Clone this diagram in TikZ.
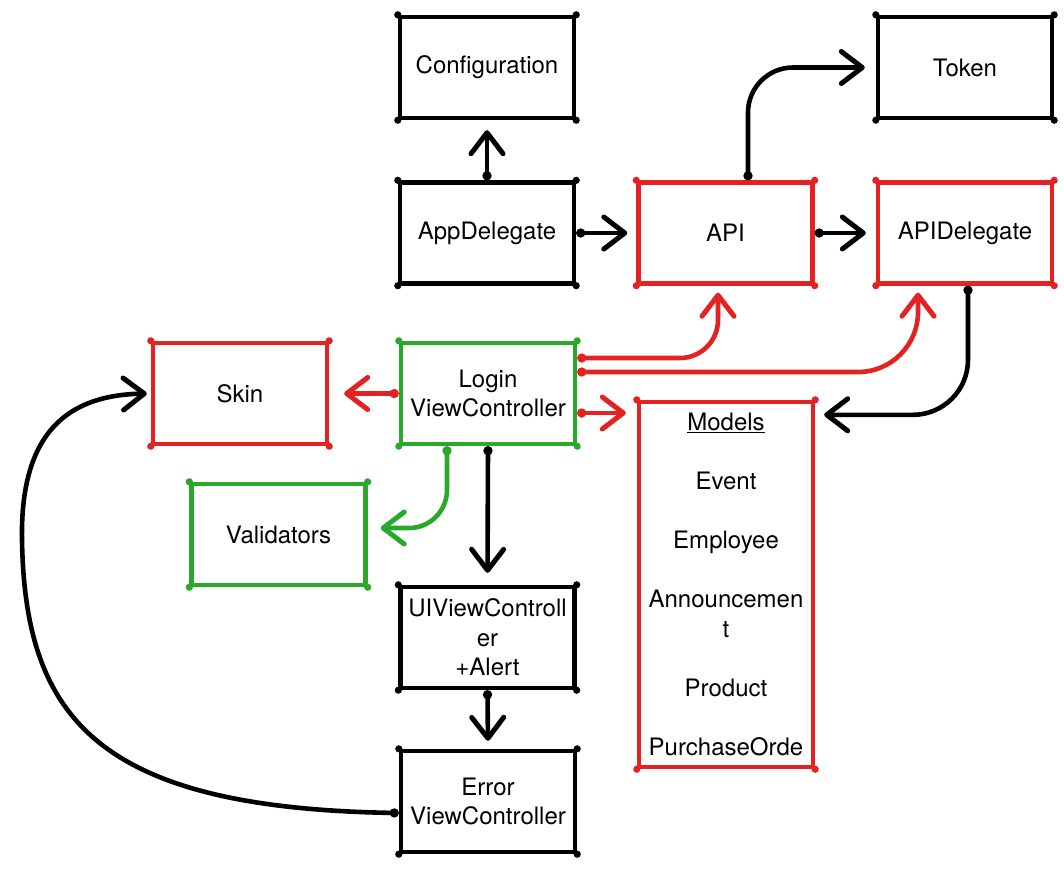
\documentclass[tikz,border=0pt]{standalone}
\usepackage{fontspec}
\setmainfont{TeX Gyre Heros}
\usetikzlibrary{arrows.meta}
\definecolor{cred}{RGB}{228,34,34}
\definecolor{cgreen}{RGB}{42,168,42}
\begin{document}
\begin{tikzpicture}[x=1pt,y=-1pt,
  box/.style={draw=#1, line width=4.4pt, line join=round, minimum width=174pt, minimum height=101pt,
    inner sep=0pt, align=center, font=\fontsize{24}{29.5}\selectfont, text=black},
  box/.default=black,
  arr/.style={line width=4.6pt, line cap=round,
    {Circle[length=9pt]}-{Straight Barb[length=21pt,width=32pt,line width=5pt,round]}},
  ]
\fill[white] (0,0) rectangle (1064,876);
\path[use as bounding box] (0,0) rectangle (1064,876);

\node[box] (conf) at (487,67.5) {\raisebox{-3pt}{Configuration}};
\node[box] (token) at (965,67.5) {\raisebox{-3pt}{Token}};
\node[box] (app) at (487,233) {AppDelegate};
\node[box=cred] (api) at (725.5,233) {API};
\node[box=cred] (apid) at (965,233) {APIDelegate};
\node[box=cred] (skin) at (240,393.5) {Skin};
\node[box=cgreen] (login) at (488,393.5) {Login\\ViewController};
\node[box=cred,minimum height=365pt] (models) at (726,584.5)
  {\underline{Models}\\[29.5pt]Event\\[29.5pt]Employee\\[29.5pt]Announcemen\\t\\[29.5pt]Product\\[29.5pt]PurchaseOrde};
\node[box=cgreen] (valid) at (278.5,534.5) {Validators};
\node[box] (uivc) at (487.5,637.5) {UIViewControll\\er\\+Alert};
\node[box] (err) at (488,801.5) {Error\\ViewController};

% corner blobs
\foreach \n/\c in {conf/black,token/black,app/black,api/cred,apid/cred,skin/cred,login/cgreen,models/cred,valid/cgreen,uivc/black,err/black}{
  \foreach \k in {north west,north east,south west,south east}{
    \fill[\c] (\n.\k) circle (3.6pt);
  }
}

% connectors
\draw[arr,shorten >=10pt] (app.north) -- (conf.south);
\draw[arr,shorten >=9pt] (app.east) -- (api.west);
\draw[arr,shorten >=10pt] (api.east) -- (apid.west);
\draw[arr,shorten >=11pt,rounded corners=45pt] ([xshift=22.5pt]api.north) |- (token.west);
\draw[arr,cred,shorten >=15pt] (login.west) -- (skin.east);
\draw[arr,cred,shorten >=7pt,rounded corners=38pt] ([yshift=35.5pt]login.east) -| ([xshift=-7.5pt]api.south);
\draw[arr,cred,shorten >=7pt,rounded corners=60pt] ([yshift=21.5pt]login.east) -| ([xshift=-47pt]apid.south);
\draw[arr,cred,shorten >=11pt] ([yshift=-19.5pt]login.east) coordinate (l3) -- (l3 -| models.west);
\draw[arr,shorten >=9pt,rounded corners=55pt] ([xshift=3pt]apid.south) |- ([yshift=-15pt]models.north east);
\draw[arr,shorten >=12pt] (login.south) -- (uivc.north);
\draw[arr,cgreen,shorten >=13pt,rounded corners=38pt] ([xshift=-41pt]login.south) |- ([yshift=6.5pt]valid.east);
\draw[arr,shorten >=8pt] (uivc.south) -- (err.north);
\draw[arr,shorten >=4pt] ([yshift=-11.5pt]err.west) .. controls (100,808) and (25,720) .. (22,540)
  .. controls (20,430) and (70,395) .. (skin.west);
\end{tikzpicture}
\end{document}
